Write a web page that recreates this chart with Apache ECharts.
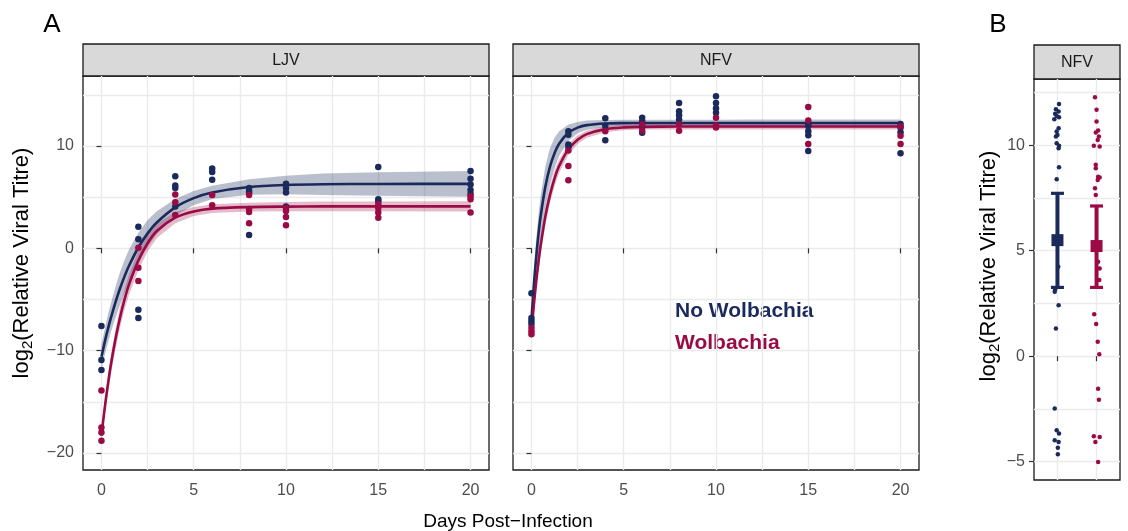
<!DOCTYPE html>
<html>
<head>
<meta charset="utf-8">
<script src="https://cdn.jsdelivr.net/npm/echarts@6.0.0/dist/echarts.min.js"></script>
<style>
  html, body { margin: 0; padding: 0; background: #fff; }
  #chart { width: 1128px; height: 531px; }
</style>
</head>
<body>
<div id="chart"></div>
<script>
// ---- data ----
var navy = '#1b2a5c';
var crimson = '#9a0b46';
var fontFam = '"Liberation Sans", Arial, Helvetica, sans-serif';

// raw titres, panel A  [day, log2 titre]
var ljvNoWol = [[0,-7.6],[0,-10.9],[0,-11.9],
  [2,2.1],[2,0.9],[2,-6.0],[2,-6.8],
  [4,7.05],[4,6.15],[4,5.9],[4,4.1],
  [6,7.8],[6,7.45],[6,6.7],
  [8,5.9],[8,5.6],[8,5.4],[8,1.3],
  [10,6.3],[10,5.9],[10,5.45],[10,4.1],
  [15,7.95],[15,4.8],[15,4.6],
  [20,7.55],[20,6.8],[20,6.25],[20,5.7],[20,5.3]];
var ljvWol = [[0,-13.9],[0,-17.5],[0,-18.0],[0,-18.8],
  [2,0.05],[2,-1.9],[2,-3.2],
  [4,5.25],[4,4.5],[4,3.25],
  [6,5.2],[6,4.2],
  [8,5.2],[8,3.85],[8,3.55],[8,2.45],
  [10,3.95],[10,3.65],[10,3.05],[10,2.25],
  [15,4.3],[15,3.95],[15,3.5],[15,3.0],
  [20,5.1],[20,4.8],[20,3.5]];
var nfvNoWol = [[0,-4.4],[0,-6.8],[0,-7.1],[0,-7.4],
  [2,11.45],[2,11.1],[2,10.15],[2,9.9],
  [4,12.7],[4,11.95],[4,10.55],
  [6,12.75],[6,12.4],[6,11.85],[6,11.3],
  [8,14.2],[8,13.4],[8,13.0],[8,12.6],
  [10,14.85],[10,14.2],[10,13.7],[10,13.25],
  [15,12.15],[15,11.95],[15,11.45],[15,11.05],[15,9.5],
  [20,12.15],[20,11.8],[20,11.35],[20,9.3]];
var nfvWol = [[0,-7.75],[0,-8.1],[0,-8.4],
  [2,9.55],[2,8.05],[2,6.65],
  [4,11.45],
  [6,12.1],[6,11.5],
  [8,12.1],[8,11.5],
  [10,12.75],[10,12.0],[10,11.8],
  [15,13.8],[15,12.5],[15,10.2],
  [20,11.9],[20,11.0],[20,10.2]];

// fitted curves + confidence bands, read at these days
var fitDays = [0,0.125,0.25,0.375,0.5,0.75,1,1.25,1.5,2,2.5,3,4,5,6,8,10,12,15,20];
var ljvNoWolFit = [-10.6,-9.58,-8.6,-7.71,-6.86,-5.32,-3.95,-2.74,-1.68,0.08,1.46,2.53,4.01,4.91,5.46,5.99,6.19,6.26,6.29,6.3];
var ljvNoWolLo  = [-11.8,-10.83,-9.9,-9.11,-8.26,-6.82,-5.55,-4.34,-3.28,-1.37,0.16,1.43,3.21,4.21,4.81,5.24,5.29,5.21,5.14,5.05];
var ljvNoWolHi  = [-9.4,-8.33,-7.3,-6.31,-5.46,-3.82,-2.35,-1.14,-0.08,1.53,2.76,3.63,4.81,5.61,6.11,6.74,7.09,7.31,7.44,7.55];
var ljvWolFit = [-18.3,-16.37,-14.6,-13.0,-11.5,-8.96,-6.8,-5.0,-3.5,-1.2,0.5,1.7,3.0,3.6,3.88,4.03,4.08,4.1,4.1,4.1];
var ljvWolLo  = [-19.0,-17.12,-15.4,-13.85,-12.4,-9.91,-7.8,-6.0,-4.5,-2.15,-0.3,1.0,2.45,3.15,3.46,3.6,3.63,3.63,3.62,3.6];
var ljvWolHi  = [-17.6,-15.62,-13.8,-12.15,-10.6,-8.01,-5.8,-4.0,-2.5,-0.25,1.3,2.4,3.55,4.05,4.3,4.46,4.53,4.57,4.58,4.6];
var nfvNoWolFit = [-7.0,-3.71,-0.98,1.28,3.16,5.99,7.96,9.3,10.23,11.29,11.8,12.04,12.2,12.24,12.25,12.25,12.25,12.25,12.25,12.25];
var nfvNoWolLo  = [-7.8,-5.01,-2.68,-0.62,1.16,3.99,6.16,7.8,9.03,10.49,11.25,11.59,11.85,11.92,11.93,11.93,11.93,11.92,11.91,11.9];
var nfvNoWolHi  = [-6.2,-2.41,0.72,3.18,5.16,7.99,9.76,10.8,11.43,12.09,12.35,12.49,12.55,12.56,12.57,12.57,12.57,12.58,12.59,12.6];
var nfvWolFit = [-8.2,-5.62,-3.38,-1.41,0.3,3.1,5.2,6.82,8.04,9.67,10.61,11.16,11.65,11.82,11.87,11.9,11.9,11.9,11.9,11.9];
var nfvWolLo  = [-8.8,-6.37,-4.23,-2.31,-0.6,2.2,4.4,6.07,7.39,9.12,10.19,10.81,11.35,11.55,11.6,11.62,11.62,11.62,11.61,11.6];
var nfvWolHi  = [-7.6,-4.87,-2.53,-0.51,1.2,4.0,6.0,7.57,8.69,10.22,11.03,11.51,11.95,12.1,12.14,12.18,12.18,12.18,12.19,12.2];

// panel B, jittered points [x position, titre]
var bNoWol = [[1.04,11.96],[0.96,11.71],[1.03,11.6],[0.94,11.49],[0.98,11.39],[1.04,11.33],[0.92,11.23],
  [1.03,10.81],[0.98,10.65],[1.0,10.49],[0.96,10.41],[0.98,10.09],[1.04,9.97],[1.03,9.86],
  [1.04,8.96],[0.98,8.39],[1.02,4.24],[0.94,3.16],[0.93,3.05],[1.03,2.42],[0.96,1.31],
  [0.93,-2.48],[0.98,-3.51],[1.04,-3.67],[0.93,-3.99],[1.03,-4.07],[1.01,-4.34],[1.01,-4.65]];
var bWol = [[1.96,12.28],[2.0,11.68],[2.0,11.12],[2.04,10.7],[1.98,10.6],[2.06,10.41],[2.03,10.25],
  [1.93,9.97],[2.08,9.94],[1.98,9.07],[1.98,8.91],[2.04,8.51],[2.08,8.47],[2.03,8.35],
  [1.96,7.96],[1.98,7.64],[2.04,4.48],[2.08,4.16],[2.07,3.61],[1.94,1.99],[1.99,1.52],
  [2.03,0.68],[2.07,0.09],[2.04,-1.54],[2.06,-2.06],[1.93,-3.8],[2.08,-3.83],[1.97,-4.07],[2.04,-5.02]];
var bMeans = [5.5, 5.22];
var bLo = [3.26, 3.26];
var bHi = [7.72, 7.12];

var xTicksA = [0,5,10,15,20];
var yTicksA = [-20,-10,0,10];
var yTicksB = [-5,0,5,10];
var xGridA = [0,2.5,5,7.5,10,12.5,15,17.5,20];
var yGridA = [-20,-15,-10,-5,0,5,10,15];
var yGridB = [-5,-2.5,0,2.5,5,7.5,10,12.5];

// ---- helpers ----
function pairs(xs, ys) {
  return xs.map(function (x, i) { return [x, ys[i]]; });
}
function gridLines(xs, ys) {
  var d = [];
  xs.forEach(function (v) { d.push({ xAxis: v }); });
  ys.forEach(function (v) { d.push({ yAxis: v }); });
  return {
    silent: true, symbol: ['none', 'none'], z: 0,
    label: { show: false },
    lineStyle: { color: '#ebebeb', width: 1.4, type: 'solid' },
    emphasis: { disabled: true },
    data: d
  };
}
// confidence ribbon as one polygon, placed through the axes
function band(idx, lo, hi, color, marks) {
  var s = {
    type: 'custom', xAxisIndex: idx, yAxisIndex: idx, z: 1, silent: true,
    data: [[fitDays[0], lo[0]]],
    renderItem: function (params, api) {
      var poly = [];
      for (var i = 0; i < fitDays.length; i++) poly.push(api.coord([fitDays[i], lo[i]]));
      for (var j = fitDays.length - 1; j >= 0; j--) poly.push(api.coord([fitDays[j], hi[j]]));
      return { type: 'polygon', shape: { points: poly }, style: { fill: color, stroke: null } };
    }
  };
  if (marks) s.markLine = marks;
  return s;
}
function fit(idx, ys, color) {
  return {
    type: 'line', xAxisIndex: idx, yAxisIndex: idx, data: pairs(fitDays, ys),
    symbol: 'none', smooth: 0.3,
    lineStyle: { color: color, width: 2.6 }, z: 3, silent: true
  };
}
function pts(idx, data, color, size) {
  return {
    type: 'scatter', xAxisIndex: idx, yAxisIndex: idx, data: data,
    symbolSize: size, itemStyle: { color: color, opacity: 1 }, z: 4, silent: true
  };
}

var minus = function (v) { return String(v).replace('-', '\u2212'); };
var tickStyle = { color: '#333', width: 1.2 };
var labelStyle = { color: '#4d4d4d', fontSize: 16, fontFamily: fontFam, formatter: minus };

function xAxisA(idx) {
  return {
    type: 'value', gridIndex: idx, min: -1, max: 21,
    axisLine: { show: false }, splitLine: { show: false },
    axisTick: { show: true, length: 5, lineStyle: tickStyle, customValues: xTicksA },
    axisLabel: Object.assign({ margin: 13, customValues: xTicksA }, labelStyle)
  };
}
function yAxisA(idx, showLabels) {
  return {
    type: 'value', gridIndex: idx, min: -21.66, max: 16.84,
    axisLine: { show: false }, splitLine: { show: false },
    axisTick: { show: true, length: 5, lineStyle: tickStyle, customValues: yTicksA },
    axisLabel: Object.assign({ show: showLabels, margin: 9, customValues: yTicksA }, labelStyle)
  };
}

var blueBand = 'rgba(27,42,92,0.30)';
var redBand = 'rgba(154,11,70,0.28)';

var series = [];
series.push(band(0, ljvNoWolLo, ljvNoWolHi, blueBand, gridLines(xGridA, yGridA)));
series.push(band(0, ljvWolLo, ljvWolHi, redBand));
series.push(fit(0, ljvNoWolFit, navy), fit(0, ljvWolFit, crimson));
series.push(pts(0, ljvNoWol, navy, 6.5), pts(0, ljvWol, crimson, 6.5));

series.push(band(1, nfvNoWolLo, nfvNoWolHi, blueBand, gridLines(xGridA, yGridA)));
series.push(band(1, nfvWolLo, nfvWolHi, redBand));
series.push(fit(1, nfvNoWolFit, navy), fit(1, nfvWolFit, crimson));
series.push(pts(1, nfvNoWol, navy, 6.5), pts(1, nfvWol, crimson, 6.5));

// panel B
var bColors = [navy, crimson];
series.push({
  type: 'scatter', xAxisIndex: 2, yAxisIndex: 2, data: [],
  markLine: gridLines([1, 2], yGridB)
});
series.push(pts(2, bNoWol, navy, 4.5), pts(2, bWol, crimson, 4.5));
series.push({
  type: 'custom', xAxisIndex: 2, yAxisIndex: 2, z: 5, silent: true,
  data: bLo.map(function (lo, i) { return [i + 1, lo, bHi[i]]; }),
  renderItem: function (params, api) {
    var x = api.value(0);
    var p1 = api.coord([x, api.value(1)]);
    var p2 = api.coord([x, api.value(2)]);
    var c = bColors[params.dataIndex];
    var w = 6.5;
    return {
      type: 'group', children: [
        { type: 'line', shape: { x1: p1[0], y1: p1[1], x2: p2[0], y2: p2[1] }, style: { stroke: c, lineWidth: 4 } },
        { type: 'line', shape: { x1: p1[0] - w, y1: p1[1], x2: p1[0] + w, y2: p1[1] }, style: { stroke: c, lineWidth: 3.2 } },
        { type: 'line', shape: { x1: p2[0] - w, y1: p2[1], x2: p2[0] + w, y2: p2[1] }, style: { stroke: c, lineWidth: 3.2 } }
      ]
    };
  }
});
series.push({
  type: 'scatter', xAxisIndex: 2, yAxisIndex: 2, z: 6, silent: true,
  itemStyle: { opacity: 1 },
  data: bMeans.map(function (m, i) {
    return { value: [i + 1, m], itemStyle: { color: bColors[i], opacity: 1 } };
  }),
  symbol: 'rect', symbolSize: 12
});

var txt = function (t, x, y, size, color) {
  return {
    type: 'text', x: x, y: y, silent: true,
    style: { text: t, fill: color || '#000', font: size + 'px ' + fontFam, align: 'center', verticalAlign: 'middle' }
  };
};
function strip(x, y, w, h, label) {
  return [
    { type: 'rect', shape: { x: x, y: y, width: w, height: h }, silent: true,
      style: { fill: '#d9d9d9', stroke: '#1a1a1a', lineWidth: 1.3 } },
    txt(label, x + w / 2, y + h / 2 + 1, 16, '#1a1a1a')
  ];
}
function yTitle(x, y) {
  return {
    type: 'text', x: x, y: y, rotation: Math.PI / 2, silent: true,
    style: {
      text: '{n|log}{s|2}{n|(Relative Viral Titre)}', align: 'center', verticalAlign: 'middle',
      rich: {
        n: { fontSize: 22, fontFamily: fontFam, fill: '#000', lineHeight: 27 },
        s: { fontSize: 15, fontFamily: fontFam, fill: '#000', lineHeight: 27, verticalAlign: 'bottom', padding: [9, 0, 0, 0] }
      }
    }
  };
}

var graphics = []
  .concat(strip(83, 44, 406, 32, 'LJV'))
  .concat(strip(513, 44, 406, 32, 'NFV'))
  .concat(strip(1034, 45, 86, 34, 'NFV'))
  .concat([
    txt('A', 52, 25, 26),
    txt('B', 998, 25, 26),
    txt('Days Post\u2212Infection', 508, 522, 19),
    yTitle(22, 263),
    yTitle(989, 266),
    { type: 'text', x: 675, y: 311, silent: true,
      style: { text: 'No Wolbachia', fill: navy, font: 'bold 21px ' + fontFam, align: 'left', verticalAlign: 'middle' } },
    { type: 'text', x: 675, y: 343, silent: true,
      style: { text: 'Wolbachia', fill: crimson, font: 'bold 21px ' + fontFam, align: 'left', verticalAlign: 'middle' } }
  ]);

var option = {
  animation: false,
  backgroundColor: '#fff',
  grid: [
    { left: 83, top: 76, width: 406, height: 394, show: true, borderColor: '#1a1a1a', borderWidth: 1.3, backgroundColor: 'transparent' },
    { left: 513, top: 76, width: 406, height: 394, show: true, borderColor: '#1a1a1a', borderWidth: 1.3, backgroundColor: 'transparent' },
    { left: 1034, top: 79, width: 86, height: 401, show: true, borderColor: '#1a1a1a', borderWidth: 1.3, backgroundColor: 'transparent' }
  ],
  xAxis: [
    xAxisA(0), xAxisA(1),
    { type: 'value', gridIndex: 2, min: 0.4, max: 2.6,
      axisLine: { show: false }, splitLine: { show: false },
      axisTick: { show: true, length: 5, lineStyle: tickStyle, customValues: [1, 2] },
      axisLabel: { show: false } }
  ],
  yAxis: [
    yAxisA(0, true), yAxisA(1, false),
    { type: 'value', gridIndex: 2, min: -5.87, max: 13.14,
      axisLine: { show: false }, splitLine: { show: false },
      axisTick: { show: true, length: 5, lineStyle: tickStyle, customValues: yTicksB },
      axisLabel: Object.assign({ margin: 9, customValues: yTicksB }, labelStyle) }
  ],
  series: series,
  graphic: graphics
};

var chart = echarts.init(document.getElementById('chart'), null, { renderer: 'canvas' });
chart.setOption(option);
</script>
</body>
</html>
